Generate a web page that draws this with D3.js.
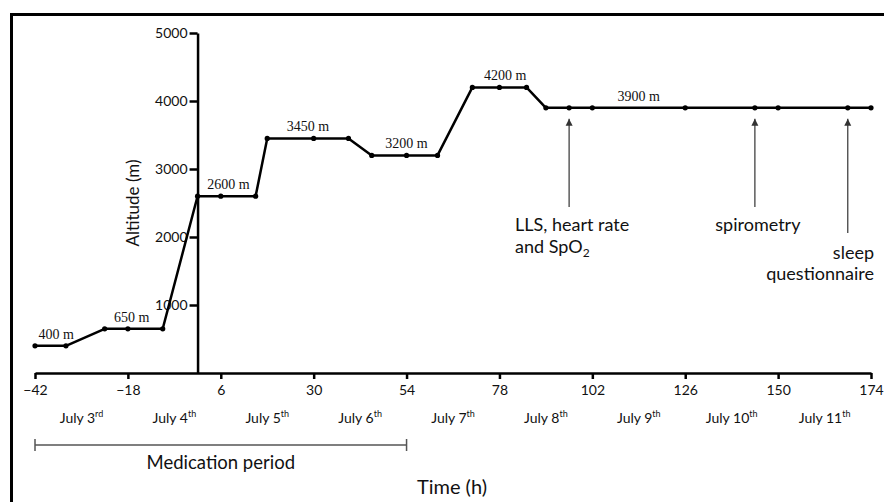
<!DOCTYPE html>
<html>
<head>
<meta charset="utf-8">
<script src="https://cdn.jsdelivr.net/npm/d3@7"></script>
<style>
  body { margin: 0; background: #fff; }
  svg text { font-family: Lato, "Open Sans", sans-serif; fill: #111; }
  .alt { font-family: "Liberation Serif", "DejaVu Serif", serif !important; font-size: 14px; }
</style>
</head>
<body>
<svg id="chart" width="884" height="502"></svg>
<script>
// altitude profile (hours relative to start of ascent, metres)
var hours = [-42, -34, -24, -18, -9, 0, 6, 15, 18, 30, 39, 45, 54, 62, 71, 78, 85, 90, 96, 102, 126, 144, 150, 168, 174];
var altitude = [400, 400, 650, 650, 650, 2600, 2600, 2600, 3450, 3450, 3450, 3200, 3200, 3200, 4200, 4200, 4200, 3900, 3900, 3900, 3900, 3900, 3900, 3900, 3900];

var xTicks = [-42, -18, 6, 30, 54, 78, 102, 126, 150, 174];
var yTicks = [1000, 2000, 3000, 4000, 5000];

var stageLabels = ["400 m", "650 m", "2600 m", "3450 m", "3200 m", "4200 m", "3900 m"];
var stageHours = [-36.5, -17, 8, 28.5, 54, 79.5, 114];
var stageAlt = [400, 650, 2600, 3450, 3200, 4200, 3900];

var dayNames = ["July 3", "July 4", "July 5", "July 6", "July 7", "July 8", "July 9", "July 10", "July 11"];
var daySuffix = ["rd", "th", "th", "th", "th", "th", "th", "th", "th"];
var dayHours = [-30, -6, 18, 42, 66, 90, 114, 138, 162];

var measureHours = [96, 144, 168];
var medication = [-42, 54];

var svg = d3.select("#chart");

// frame
svg.append("rect")
    .attr("x", 11.5).attr("y", 14.5)
    .attr("width", 900).attr("height", 520)
    .attr("fill", "none").attr("stroke", "#000").attr("stroke-width", 3);

var x = d3.scaleLinear().domain([-42, 174]).range([35, 871]);
var y = d3.scaleLinear().domain([0, 5000]).range([373, 33]);

// x axis
var xAxis = svg.append("g")
    .attr("transform", "translate(0," + y(0) + ")")
    .call(d3.axisBottom(x).tickValues(xTicks).tickSize(6).tickSizeOuter(0).tickPadding(6));
xAxis.select(".domain").attr("stroke-width", 2.5);
xAxis.selectAll(".tick line").attr("stroke-width", 2.5);
xAxis.selectAll("text").style("font-size", "14px").attr("fill", "#111");

// y axis at time 0
var yAxis = svg.append("g")
    .attr("transform", "translate(" + x(0) + ",0)")
    .call(d3.axisLeft(y).tickValues(yTicks).tickFormat(d3.format("d"))
      .tickSize(8).tickSizeOuter(0).tickPadding(2));
yAxis.select(".domain").attr("stroke-width", 2.5);
yAxis.selectAll(".tick line").attr("stroke-width", 2.5);
yAxis.selectAll("text").style("font-size", "14px").attr("fill", "#111");

svg.append("text")
    .attr("transform", "translate(139,203) rotate(-90)")
    .attr("text-anchor", "middle")
    .style("font-size", "17px")
    .text("Altitude (m)");

// profile line
var pts = hours.map(function(h, i) { return [h, altitude[i]]; });
var line = d3.line()
    .x(function(d) { return x(d[0]); })
    .y(function(d) { return y(d[1]); });

svg.append("path")
    .datum(pts)
    .attr("d", line)
    .attr("fill", "none")
    .attr("stroke", "#000")
    .attr("stroke-width", 2.5)
    .attr("stroke-linejoin", "round");

svg.selectAll(".pt")
    .data(pts)
  .enter().append("circle")
    .attr("cx", function(d) { return x(d[0]); })
    .attr("cy", function(d) { return y(d[1]); })
    .attr("r", 2.6)
    .attr("fill", "#000");

// stage altitude labels
svg.selectAll(".alt")
    .data(stageLabels)
  .enter().append("text")
    .attr("class", "alt")
    .attr("x", function(d, i) { return x(stageHours[i]); })
    .attr("y", function(d, i) { return y(stageAlt[i]) - 7; })
    .attr("text-anchor", "middle")
    .text(function(d) { return d; });

// day labels
var days = svg.selectAll(".day")
    .data(dayNames)
  .enter().append("text")
    .attr("x", function(d, i) { return x(dayHours[i]); })
    .attr("y", 423)
    .attr("text-anchor", "middle")
    .style("font-size", "14px");
days.append("tspan").text(function(d) { return d; });
days.append("tspan")
    .attr("dy", -6)
    .style("font-size", "9px")
    .text(function(d, i) { return daySuffix[i]; });

// medication period bracket
var medY = 445;
svg.append("line")
    .attr("x1", x(medication[0])).attr("x2", x(medication[1]))
    .attr("y1", medY).attr("y2", medY)
    .attr("stroke", "#555").attr("stroke-width", 1.5);
svg.selectAll(".cap")
    .data(medication)
  .enter().append("line")
    .attr("x1", function(d) { return x(d); })
    .attr("x2", function(d) { return x(d); })
    .attr("y1", medY - 6).attr("y2", medY + 6)
    .attr("stroke", "#555").attr("stroke-width", 1.5);
svg.append("text")
    .attr("x", x((medication[0] + medication[1]) / 2))
    .attr("y", 469)
    .attr("text-anchor", "middle")
    .style("font-size", "18.5px")
    .text("Medication period");

svg.append("text")
    .attr("x", 452)
    .attr("y", 494)
    .attr("text-anchor", "middle")
    .style("font-size", "20px")
    .text("Time (h)");

// measurement arrows
svg.append("defs").append("marker")
    .attr("id", "arrow")
    .attr("viewBox", "0 0 10 10")
    .attr("refX", 10).attr("refY", 5)
    .attr("markerWidth", 7).attr("markerHeight", 9)
    .attr("markerUnits", "userSpaceOnUse")
    .attr("orient", "auto")
  .append("path")
    .attr("d", "M0,0L10,5L0,10Z")
    .attr("fill", "#333");

var arrowEnd = [207, 207, 233];
svg.selectAll(".arrow")
    .data(measureHours)
  .enter().append("line")
    .attr("x1", function(d) { return x(d); })
    .attr("x2", function(d) { return x(d); })
    .attr("y1", function(d, i) { return arrowEnd[i]; })
    .attr("y2", y(3900) + 11)
    .attr("stroke", "#333").attr("stroke-width", 1.2)
    .attr("marker-end", "url(#arrow)");

var note1 = svg.append("text").style("font-size", "18px");
note1.append("tspan").attr("x", 515).attr("y", 231).text("LLS, heart rate");
note1.append("tspan").attr("x", 515).attr("y", 253).text("and SpO");
note1.append("tspan").attr("dy", 4).style("font-size", "12px").text("2");

svg.append("text")
    .attr("x", x(144) + 3)
    .attr("y", 231)
    .attr("text-anchor", "middle")
    .style("font-size", "18px")
    .text("spirometry");

var note3 = svg.append("text").attr("text-anchor", "end").style("font-size", "18px");
note3.append("tspan").attr("x", 874).attr("y", 259).text("sleep");
note3.append("tspan").attr("x", 874).attr("y", 280).text("questionnaire");
</script>
</body>
</html>
